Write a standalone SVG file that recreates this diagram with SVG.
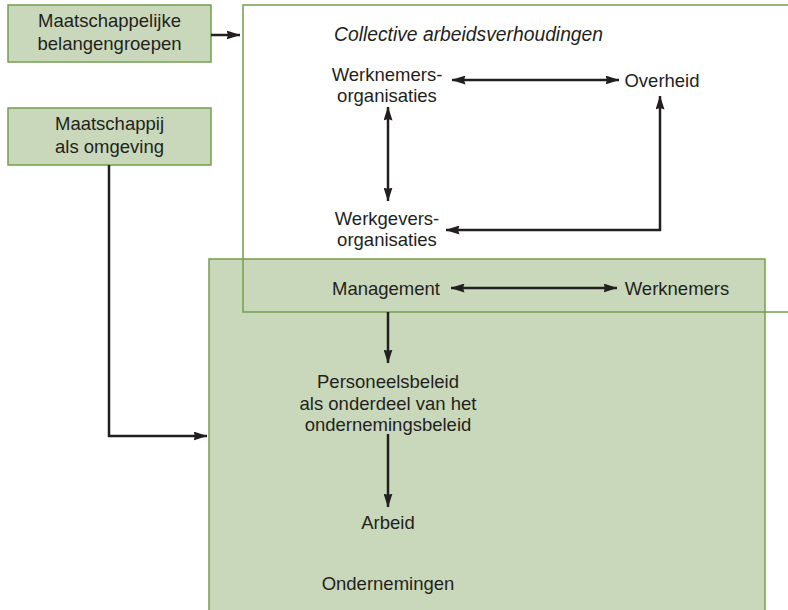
<svg xmlns="http://www.w3.org/2000/svg" width="788" height="610" viewBox="0 0 788 610">
<defs>
<style>
.t{font-family:"Liberation Sans",Arial,sans-serif;font-size:18.5px;fill:#231f20;text-anchor:middle}
.i{font-style:italic;font-size:19.3px;text-anchor:start}
.box{fill:#c9d8ba;stroke:#72a04e;stroke-width:1.5}
.frame{fill:none;stroke:#72a04e;stroke-width:1.5}
.c{fill:none;stroke:#231f20;stroke-width:2.5}
</style>
<marker id="ah" markerUnits="userSpaceOnUse" markerWidth="14" markerHeight="9" refX="13.5" refY="4.5" orient="auto-start-reverse" viewBox="0 0 14 9">
<path d="M0,0 L14,4.5 L0,9 L1.5,4.5 z" fill="#231f20"/>
</marker>
</defs>
<rect width="788" height="610" fill="#fff"/>
<g id="ondernemingen">
<rect class="box" x="209" y="259" width="556" height="360"/>
<text class="t" x="388" y="590">Ondernemingen</text>
</g>
<g id="collectief">
<rect class="frame" x="243" y="5" width="560" height="307"/>
<text class="t i" x="334" y="41">Collective arbeidsverhoudingen</text>
</g>
<g id="belangengroepen">
<rect class="box" x="8" y="5" width="203" height="57"/>
<text class="t" x="109.5" y="27">Maatschappelijke</text>
<text class="t" x="109.5" y="50">belangengroepen</text>
</g>
<g id="maatschappij">
<rect class="box" x="8" y="108" width="203" height="57"/>
<text class="t" x="109.5" y="130">Maatschappij</text>
<text class="t" x="109.5" y="153">als omgeving</text>
</g>
<g id="werknemersorganisaties">
<text class="t" x="387" y="81">Werknemers-</text>
<text class="t" x="387" y="102">organisaties</text>
</g>
<g id="overheid">
<text class="t" x="662" y="87">Overheid</text>
</g>
<g id="werkgeversorganisaties">
<text class="t" x="387" y="225">Werkgevers-</text>
<text class="t" x="387" y="246">organisaties</text>
</g>
<g id="management">
<text class="t" x="386" y="295">Management</text>
</g>
<g id="werknemers">
<text class="t" x="677" y="295">Werknemers</text>
</g>
<g id="personeelsbeleid">
<text class="t" x="388" y="388">Personeelsbeleid</text>
<text class="t" x="388" y="410">als onderdeel van het</text>
<text class="t" x="388" y="431">ondernemingsbeleid</text>
</g>
<g id="arbeid">
<text class="t" x="388" y="529">Arbeid</text>
</g>
<g id="connectors">
<path class="c" d="M211,35 H240" marker-end="url(#ah)"/>
<path class="c" d="M452,80 H619" marker-start="url(#ah)" marker-end="url(#ah)"/>
<path class="c" d="M388,107 V201" marker-start="url(#ah)" marker-end="url(#ah)"/>
<path class="c" d="M446,230 H660 V96" marker-start="url(#ah)" marker-end="url(#ah)"/>
<path class="c" d="M451,288 H617" marker-start="url(#ah)" marker-end="url(#ah)"/>
<path class="c" d="M388,312 V363" marker-end="url(#ah)"/>
<path class="c" d="M388,434 V507" marker-end="url(#ah)"/>
<path class="c" d="M109,165 V436 H207" marker-end="url(#ah)"/>
</g>
</svg>
